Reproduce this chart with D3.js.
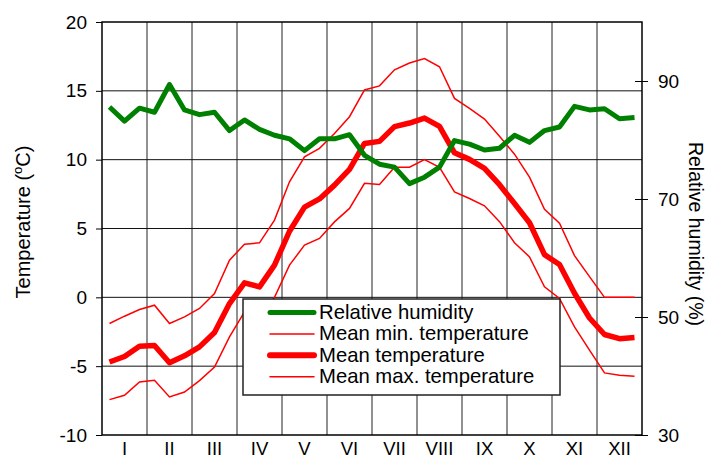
<!DOCTYPE html>
<html>
<head>
<meta charset="utf-8">
<script src="https://cdn.jsdelivr.net/npm/d3@7"></script>
<style>
    body { margin: 0; background: #fff; }
    svg { display: block; font-family: "Liberation Sans", Arial, sans-serif; }
</style>
</head>
<body>
<div id="chart"></div>
<script>
// 36 decades (3 per month)
var months = ['I', 'II', 'III', 'IV', 'V', 'VI', 'VII', 'VIII', 'IX', 'X', 'XI', 'XII'];

var humidity = [85.6, 83.2, 85.4, 84.7, 89.4, 85.1, 84.3, 84.7, 81.6, 83.4, 81.8, 80.8,
                80.2, 78.2, 80.2, 80.2, 80.9, 77.4, 75.9, 75.4, 72.6, 73.7, 75.4, 79.9,
                79.3, 78.3, 78.6, 80.8, 79.6, 81.6, 82.2, 85.7, 85.1, 85.3, 83.6, 83.8];

var meanTemp = [-4.7, -4.3, -3.55, -3.5, -4.75, -4.25, -3.6, -2.55, -0.45, 1.05, 0.76, 2.34,
                4.8, 6.55, 7.15, 8.15, 9.3, 11.18, 11.33, 12.4, 12.66, 13.02, 12.42, 10.5,
                10.02, 9.37, 8.18, 6.82, 5.42, 3.1, 2.38, 0.3, -1.5, -2.7, -3.0, -2.92];

var maxTemp = [-1.9, -1.37, -0.88, -0.57, -1.9, -1.42, -0.81, 0.28, 2.7, 3.86, 3.96, 5.61,
               8.39, 10.21, 10.82, 11.9, 13.12, 15.06, 15.36, 16.53, 17.02, 17.35, 16.75, 14.45,
               13.73, 12.95, 11.7, 10.4, 8.73, 6.4, 5.39, 3.03, 1.5, 0.0, 0.0, 0.0];

var minTemp = [-7.43, -7.11, -6.15, -6.03, -7.24, -6.88, -6.05, -5.06, -2.88, -1.05, -1.4, 0.0,
               2.34, 3.79, 4.28, 5.48, 6.46, 8.28, 8.2, 9.45, 9.45, 10.0, 9.45, 7.66,
               7.18, 6.65, 5.5, 3.97, 2.94, 0.76, -0.08, -2.15, -3.84, -5.49, -5.66, -5.73];

var tempTicks = [-10, -5, 0, 5, 10, 15, 20];
var humTicks = [30, 50, 70, 90];

const chart_width = 707;
const chart_height = 459;
const plot_left = 102, plot_right = 642, plot_top = 22, plot_bottom = 435;

var svg = d3.select('#chart')
    .append('svg')
    .attr('width', chart_width)
    .attr('height', chart_height);

// x: months 0..12, decade i sits at (i + 0.5) / 3
var x = d3.scaleLinear().domain([0, 12]).range([plot_left, plot_right]);
var xd = function(i) { return x((i + 0.5) / 3); };
var yT = d3.scaleLinear().domain([-10, 20]).range([plot_bottom, plot_top]);
var yH = d3.scaleLinear().domain([30, 100]).range([plot_bottom, plot_top]);

// grid
svg.append('g')
    .selectAll('line')
    .data(d3.range(1, 12))
    .enter()
    .append('line')
    .attr('x1', d => x(d)).attr('x2', d => x(d))
    .attr('y1', plot_top).attr('y2', plot_bottom)
    .attr('stroke', '#222')
    .attr('stroke-width', 1);

svg.append('g')
    .selectAll('line')
    .data(tempTicks.slice(1, -1))
    .enter()
    .append('line')
    .attr('x1', plot_left).attr('x2', plot_right)
    .attr('y1', d => yT(d)).attr('y2', d => yT(d))
    .attr('stroke', '#111')
    .attr('stroke-width', 1);

// left axis (plain hyphen for minus, like the original)
var leftAxis = svg.append('g')
    .attr('transform', 'translate(' + plot_left + ',0)')
    .call(d3.axisLeft(yT).tickValues(tempTicks).tickSize(6).tickPadding(9).tickFormat(d => String(d)));
leftAxis.select('.domain').remove();
leftAxis.selectAll('text').attr('font-size', 19).attr('fill', '#000').attr('font-family', '"Liberation Sans", Arial, sans-serif');
leftAxis.selectAll('line').attr('stroke', '#000');

// right axis, ticks cross the frame
var rightAxis = svg.append('g')
    .attr('transform', 'translate(' + plot_right + ',0)')
    .call(d3.axisRight(yH).tickValues(humTicks).tickSize(6).tickPadding(10));
rightAxis.select('.domain').remove();
rightAxis.selectAll('line').attr('x1', -7).attr('stroke', '#000');
rightAxis.selectAll('text').attr('font-size', 19).attr('fill', '#000').attr('font-family', '"Liberation Sans", Arial, sans-serif');

// month labels
svg.append('g')
    .selectAll('text')
    .data(months)
    .enter()
    .append('text')
    .text(d => d)
    .attr('x', (d, i) => x(i + 0.5))
    .attr('y', 454.5)
    .attr('text-anchor', 'middle')
    .attr('font-size', 18.5);

// series
var line = function(yscale) {
    return d3.line().x((d, i) => xd(i)).y(d => yscale(d));
};

svg.append('path').datum(minTemp)
    .attr('d', line(yT))
    .attr('fill', 'none').attr('stroke', '#ff0000').attr('stroke-width', 1.5);
svg.append('path').datum(maxTemp)
    .attr('d', line(yT))
    .attr('fill', 'none').attr('stroke', '#ff0000').attr('stroke-width', 1.5);
svg.append('path').datum(meanTemp)
    .attr('d', line(yT))
    .attr('fill', 'none').attr('stroke', '#ff0000').attr('stroke-width', 5.5)
    .attr('stroke-linejoin', 'round');
svg.append('path').datum(humidity)
    .attr('d', line(yH))
    .attr('fill', 'none').attr('stroke', '#008000').attr('stroke-width', 5)
    .attr('stroke-linejoin', 'round');

// frame
svg.append('rect')
    .attr('x', plot_left).attr('y', plot_top)
    .attr('width', plot_right - plot_left).attr('height', plot_bottom - plot_top)
    .attr('fill', 'none')
    .attr('stroke', '#000')
    .attr('stroke-width', 1.5);

// legend
var legendItems = [
    { name: 'Relative humidity', color: '#008000', width: 5 },
    { name: 'Mean min. temperature', color: '#ff0000', width: 1.5 },
    { name: 'Mean temperature', color: '#ff0000', width: 6 },
    { name: 'Mean max. temperature', color: '#ff0000', width: 1.5 }
];

var legend = svg.append('g').attr('transform', 'translate(243,299)');
legend.append('rect')
    .attr('width', 317).attr('height', 96)
    .attr('fill', '#fff')
    .attr('stroke', '#222')
    .attr('stroke-width', 1.5);

var rows = legend.selectAll('g.row')
    .data(legendItems)
    .enter()
    .append('g')
    .attr('transform', (d, i) => 'translate(0,' + (13.5 + i * 21.4) + ')');
rows.append('line')
    .attr('x1', 27).attr('x2', 71)
    .attr('stroke', d => d.color)
    .attr('stroke-width', d => d.width)
    .attr('stroke-linecap', 'round');
rows.append('text')
    .text(d => d.name)
    .attr('x', 76)
    .attr('y', 6.5)
    .attr('font-size', 20.3);

// axis titles
var tTitle = svg.append('text')
    .attr('transform', 'translate(30,222) rotate(-90)')
    .attr('text-anchor', 'middle')
    .attr('font-size', 20);
tTitle.append('tspan').text('Temperature (');
tTitle.append('tspan').text('o').attr('font-size', 13).attr('dy', -8);
tTitle.append('tspan').text('C)').attr('dy', 8);

svg.append('text')
    .attr('transform', 'translate(689,234) rotate(90)')
    .attr('text-anchor', 'middle')
    .attr('font-size', 19.5)
    .text('Relative humidity (%)');
</script>
</body>
</html>
